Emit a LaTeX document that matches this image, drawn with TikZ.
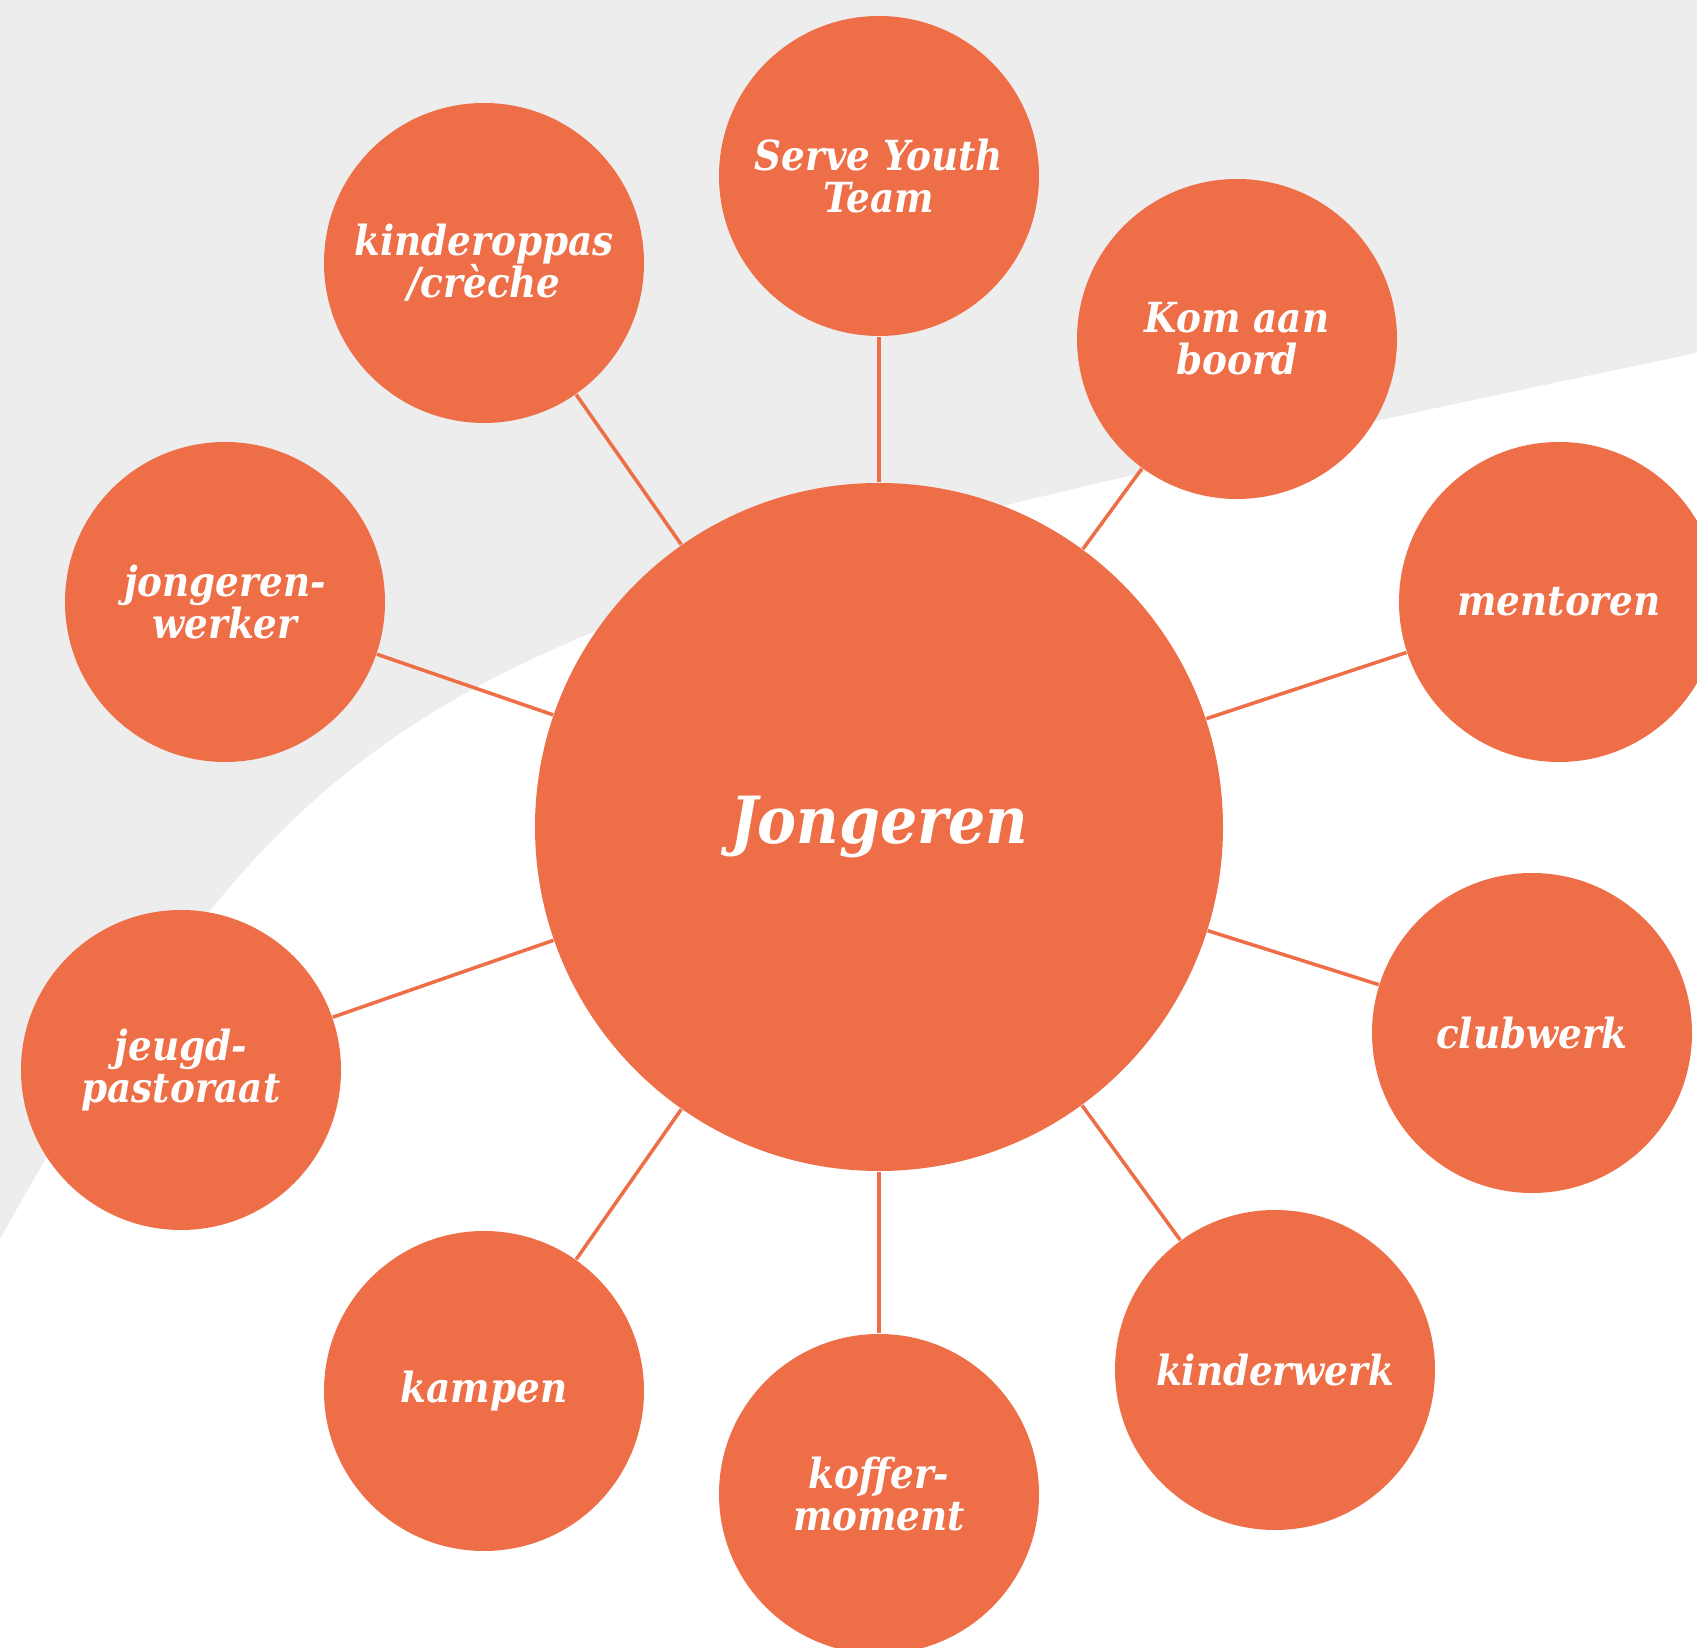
\documentclass[tikz,border=0pt]{standalone}
\usepackage{fontspec}
\setmainfont{DejaVu Serif Condensed}
\usepackage{tikz}
\usetikzlibrary{positioning}
\usepackage{xcolor}
\definecolor{orangefill}{RGB}{237,110,71}
\definecolor{bggray}{RGB}{237,237,237}

\tikzset{
    smallcircle/.style={circle, fill=orangefill, minimum size=3.2cm, inner sep=0pt, align=center, text=white,
        font=\fontsize{11.8}{12}\selectfont\bfseries\itshape},
    bigcircle/.style={circle, fill=orangefill, minimum size=6.88cm, inner sep=0pt, text=white,
        font=\fontsize{18.5}{18.5}\selectfont\bfseries\itshape},
    link/.style={draw=orangefill, line width=1pt}
}

\begin{document}
\begin{tikzpicture}
    \clip (0,0) rectangle (16.97,16.48);

    % Background
    \fill[bggray] (0,0) rectangle (16.97,16.48);
    \fill[white] (0,4.09) .. controls (3.30,9.96) and (4.38,10.31) .. (16.97,12.95)
        -- (16.97,0) -- (0,0) -- cycle;

    % Centre circle
    \node[bigcircle] (Jongeren) at (8.79,8.21) {Jongeren};

    % Circles round it
    \node[smallcircle] (Serve) at (8.79,14.72) {Serve Youth\\Team};
    \node[smallcircle] (Kinderoppas) at (4.84,13.85) {kinderoppas\\/crèche};
    \node[smallcircle] (Kom) at (12.37,13.09) {Kom aan\\boord};
    \node[smallcircle] (Werker) at (2.25,10.46) {jongeren-\\werker};
    \node[smallcircle] (Mentoren) at (15.59,10.46) {mentoren};
    \node[smallcircle] (Pastoraat) at (1.81,5.78) {jeugd-\\pastoraat};
    \node[smallcircle] (Clubwerk) at (15.32,6.15) {clubwerk};
    \node[smallcircle] (Kampen) at (4.84,2.57) {kampen};
    \node[smallcircle] (Koffer) at (8.79,1.54) {koffer-\\moment};
    \node[smallcircle] (Kinderwerk) at (12.75,2.78) {kinderwerk};

    % Lines
    \path [link] (Jongeren) edge (Serve);
    \path [link] (Jongeren) edge (Kinderoppas);
    \path [link] (Jongeren) edge (Kom);
    \path [link] (Jongeren) edge (Werker);
    \path [link] (Jongeren) edge (Mentoren);
    \path [link] (Jongeren) edge (Pastoraat);
    \path [link] (Jongeren) edge (Clubwerk);
    \path [link] (Jongeren) edge (Kampen);
    \path [link] (Jongeren) edge (Koffer);
    \path [link] (Jongeren) edge (Kinderwerk);
\end{tikzpicture}
\end{document}
